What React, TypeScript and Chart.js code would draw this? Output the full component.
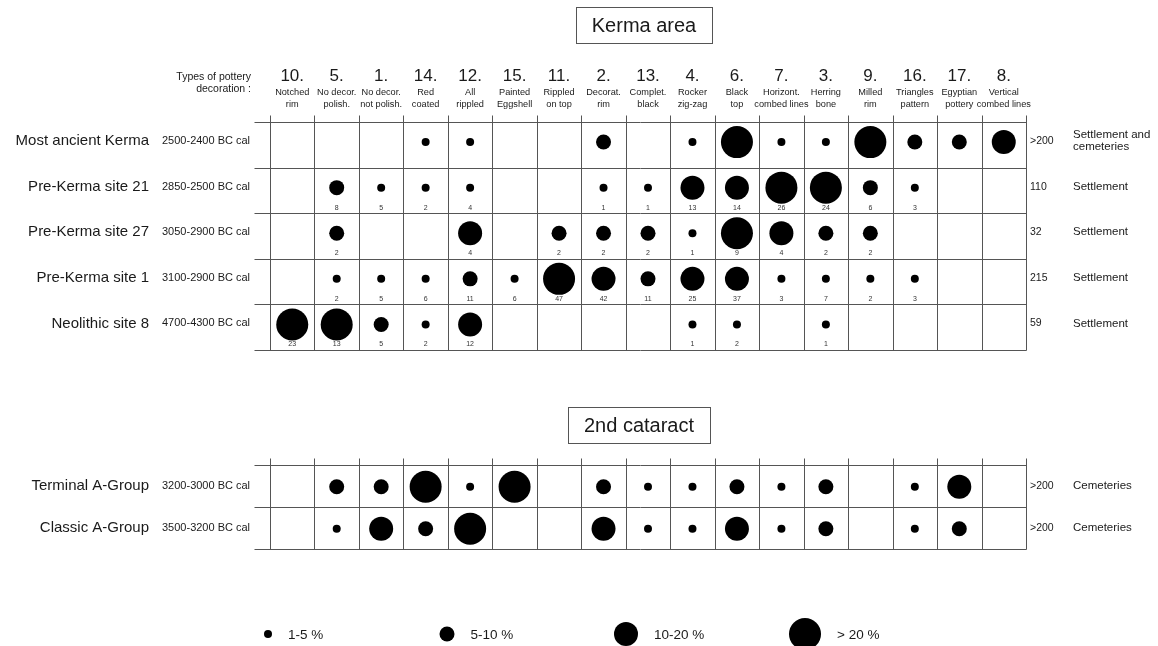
import React, { useEffect, useRef } from 'react';
import { Chart, registerables } from 'chart.js';

Chart.register(...registerables);

// ---------- DATA ----------
const decorationNumbers = ['10.', '5.', '1.', '14.', '12.', '15.', '11.', '2.', '13.', '4.', '6.', '7.', '3.', '9.', '16.', '17.', '8.'];
const decorationNames = [
  ['Notched', 'rim'], ['No decor.', 'polish.'], ['No decor.', 'not polish.'], ['Red', 'coated'],
  ['All', 'rippled'], ['Painted', 'Eggshell'], ['Rippled', 'on top'], ['Decorat.', 'rim'],
  ['Complet.', 'black'], ['Rocker', 'zig-zag'], ['Black', 'top'], ['Horizont.', 'combed lines'],
  ['Herring', 'bone'], ['Milled', 'rim'], ['Triangles', 'pattern'], ['Egyptian', 'pottery'],
  ['Vertical', 'combed lines'],
];

const kermaSites = ['Most ancient Kerma', 'Pre-Kerma site 21', 'Pre-Kerma site 27', 'Pre-Kerma site 1', 'Neolithic site 8'];
const kermaDates = ['2500-2400 BC cal', '2850-2500 BC cal', '3050-2900 BC cal', '3100-2900 BC cal', '4700-4300 BC cal'];
const kermaTotals = ['>200', '110', '32', '215', '59'];
const kermaContexts = [['Settlement and', 'cemeteries'], ['Settlement'], ['Settlement'], ['Settlement'], ['Settlement']];
// percentage class: 0 none, 1 = 1-5 %, 2 = 5-10 %, 3 = 10-20 %, 4 = > 20 %
const kermaClasses = [
  [0, 0, 0, 1, 1, 0, 0, 2, 0, 1, 4, 1, 1, 4, 2, 2, 3],
  [0, 2, 1, 1, 1, 0, 0, 1, 1, 3, 3, 4, 4, 2, 1, 0, 0],
  [0, 2, 0, 0, 3, 0, 2, 2, 2, 1, 4, 3, 2, 2, 0, 0, 0],
  [0, 1, 1, 1, 2, 1, 4, 3, 2, 3, 3, 1, 1, 1, 1, 0, 0],
  [4, 4, 2, 1, 3, 0, 0, 0, 0, 1, 1, 0, 1, 0, 0, 0, 0],
];
const kermaCounts = [
  [null, null, null, null, null, null, null, null, null, null, null, null, null, null, null, null, null],
  [null, 8, 5, 2, 4, null, null, 1, 1, 13, 14, 26, 24, 6, 3, null, null],
  [null, 2, null, null, 4, null, 2, 2, 2, 1, 9, 4, 2, 2, null, null, null],
  [null, 2, 5, 6, 11, 6, 47, 42, 11, 25, 37, 3, 7, 2, 3, null, null],
  [23, 13, 5, 2, 12, null, null, null, null, 1, 2, null, 1, null, null, null, null],
];

const cataractSites = ['Terminal A-Group', 'Classic A-Group'];
const cataractDates = ['3200-3000 BC cal', '3500-3200 BC cal'];
const cataractTotals = ['>200', '>200'];
const cataractContexts = [['Cemeteries'], ['Cemeteries']];
const cataractClasses = [
  [0, 2, 2, 4, 1, 4, 0, 2, 1, 1, 2, 1, 2, 0, 1, 3, 0],
  [0, 1, 3, 2, 4, 0, 0, 3, 1, 1, 3, 1, 2, 0, 1, 2, 0],
];

const legendLabels = ['1-5 %', '5-10 %', '10-20 %', '> 20 %'];
const titles = ['Kerma area', '2nd cataract'];

// ---------- STYLE / LAYOUT ----------
const FONT = '"Liberation Sans", Arial, Helvetica, sans-serif';
const RADII = [0, 4, 7.5, 12, 16];
const LINE = '#555';
const TEXT = '#1a1a1a';
const LAYOUT = { yMax: 9.364, kermaTop: 0, kermaRowH: 1, catTop: 7.52, catRowH: 0.921 };
const NCOLS = decorationNumbers.length;

function buildPoints(classes: number[][], top: number, rowH: number, yFrac: number, counts?: (number | null)[][]) {
  const pts: any[] = [];
  classes.forEach((row, ri) => {
    row.forEach((cls, ci) => {
      if (!cls) return;
      pts.push({ x: ci + 0.5, y: top + ri * rowH + yFrac * rowH, r: RADII[cls], count: counts ? counts[ri][ci] : null, row: ri });
    });
  });
  return pts;
}

const tablePlugin = {
  id: 'potteryTables',
  beforeDatasetsDraw(chart: any) {
    const { ctx } = chart;
    const x = chart.scales.x;
    const y = chart.scales.y;
    ctx.save();
    ctx.strokeStyle = LINE;
    ctx.lineWidth = 1;
    const drawTable = (top: number, rowH: number, n: number) => {
      const rows: number[] = [];
      for (let i = 0; i <= n; i++) rows.push(Math.round(y.getPixelForValue(top + i * rowH)) + 0.5);
      const left = Math.round(x.getPixelForValue(0)) + 0.5;
      const right = Math.round(x.getPixelForValue(NCOLS)) + 0.5;
      ctx.beginPath();
      rows.forEach((py) => { ctx.moveTo(left - 16, py); ctx.lineTo(right, py); });
      for (let c = 0; c <= NCOLS; c++) {
        const px = Math.round(x.getPixelForValue(c)) + 0.5;
        ctx.moveTo(px, rows[0] - 7);
        ctx.lineTo(px, rows[n]);
      }
      ctx.stroke();
    };
    drawTable(LAYOUT.kermaTop, LAYOUT.kermaRowH, kermaSites.length);
    drawTable(LAYOUT.catTop, LAYOUT.catRowH, cataractSites.length);
    ctx.restore();
  },
  afterDraw(chart: any) {
    const { ctx } = chart;
    const x = chart.scales.x;
    const y = chart.scales.y;
    ctx.save();
    ctx.fillStyle = TEXT;
    ctx.textBaseline = 'middle';

    // Title boxes
    const titleBox = (text: string, cx: number, cy: number) => {
      ctx.font = `20px ${FONT}`;
      ctx.textAlign = 'center';
      const w = ctx.measureText(text).width + 32;
      ctx.fillText(text, cx, cy + 1);
      ctx.strokeStyle = LINE;
      ctx.lineWidth = 1;
      ctx.strokeRect(Math.round(cx - w / 2) + 0.5, Math.round(cy - 18) + 0.5, Math.round(w), 36);
    };
    titleBox(titles[0], 644, 25);
    titleBox(titles[1], 639, 425);

    // Header
    ctx.font = `10.5px ${FONT}`;
    ctx.textAlign = 'right';
    ctx.fillText('Types of pottery', 251, 77);
    ctx.fillText('decoration :', 251, 89);
    decorationNumbers.forEach((num, i) => {
      const cx = x.getPixelForValue(i + 0.5);
      ctx.textAlign = 'center';
      ctx.font = `17px ${FONT}`;
      ctx.fillText(num, cx, 76);
      ctx.font = `9.2px ${FONT}`;
      ctx.fillText(decorationNames[i][0], cx, 92);
      ctx.fillText(decorationNames[i][1], cx, 104);
    });

    const rowText = (names: string[], dates: string[], totals: string[], ctxs: string[][], top: number, rowH: number, yFrac: number) => {
      names.forEach((name, i) => {
        const py = y.getPixelForValue(top + i * rowH + yFrac * rowH) - 1;
        ctx.textAlign = 'right';
        ctx.font = `15px ${FONT}`;
        ctx.fillText(name, 149, py);
        ctx.textAlign = 'left';
        ctx.font = `11px ${FONT}`;
        ctx.fillText(dates[i], 162, py);
        ctx.font = `10.5px ${FONT}`;
        ctx.fillText(totals[i], 1030, py);
        ctx.font = `11.5px ${FONT}`;
        const lines = ctxs[i];
        lines.forEach((l, k) => ctx.fillText(l, 1073, py + (k - (lines.length - 1) / 2) * 12));
      });
    };
    rowText(kermaSites, kermaDates, kermaTotals, kermaContexts, LAYOUT.kermaTop, LAYOUT.kermaRowH, 0.44);
    rowText(cataractSites, cataractDates, cataractTotals, cataractContexts, LAYOUT.catTop, LAYOUT.catRowH, 0.52);

    // Counts under bubbles
    ctx.font = `7px ${FONT}`;
    ctx.textAlign = 'center';
    ctx.fillStyle = '#333';
    kermaCounts.forEach((row, ri) => {
      const bottom = y.getPixelForValue(LAYOUT.kermaTop + (ri + 1) * LAYOUT.kermaRowH);
      row.forEach((c, ci) => {
        if (c === null) return;
        ctx.fillText(String(c), x.getPixelForValue(ci + 0.5), bottom - 5.5);
      });
    });

    // Legend
    legendLabels.forEach((lab, i) => {
      const cx = 268 + i * 179;
      const r = RADII[i + 1];
      ctx.fillStyle = '#000';
      ctx.beginPath();
      ctx.arc(cx, 634, r, 0, Math.PI * 2);
      ctx.fill();
      ctx.font = `13.5px ${FONT}`;
      ctx.textAlign = 'left';
      ctx.fillStyle = TEXT;
      ctx.fillText(lab, cx + r + 16, 635);
    });
    ctx.restore();
  },
};

export default function App() {
  const ref = useRef<HTMLCanvasElement | null>(null);
  useEffect(() => {
    if (!ref.current) return;
    const chart = new Chart(ref.current, {
      type: 'bubble',
      data: {
        datasets: [
          {
            label: 'Kerma area',
            data: buildPoints(kermaClasses, LAYOUT.kermaTop, LAYOUT.kermaRowH, 0.44, kermaCounts),
            backgroundColor: '#000',
            borderWidth: 0,
          },
          {
            label: '2nd cataract',
            data: buildPoints(cataractClasses, LAYOUT.catTop, LAYOUT.catRowH, 0.52),
            backgroundColor: '#000',
            borderWidth: 0,
          },
        ],
      },
      options: {
        responsive: false,
        animation: false,
        layout: { padding: { left: 270, right: 132, top: 122, bottom: 97 } },
        scales: {
          x: { type: 'linear', min: 0, max: NCOLS, display: false },
          y: { type: 'linear', min: 0, max: LAYOUT.yMax, reverse: true, display: false },
        },
        plugins: { legend: { display: false }, tooltip: { enabled: false } },
        elements: { point: { hoverRadius: 0 } },
      },
      plugins: [tablePlugin],
    });
    return () => chart.destroy();
  }, []);
  return (
    <div style={{ position: 'absolute', left: 0, top: 0, width: 1158, height: 646, background: '#fff' }}>
      <canvas ref={ref} width={1158} height={646} style={{ display: 'block' }} />
    </div>
  );
}
